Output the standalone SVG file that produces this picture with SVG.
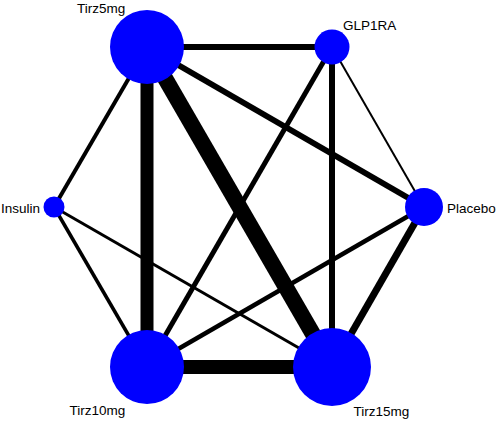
<svg xmlns="http://www.w3.org/2000/svg" width="498" height="423" viewBox="0 0 498 423">
<style>
.e{stroke:#000;stroke-linecap:butt;fill:none}
.n{fill:#0000ff}
text{font-family:"Liberation Sans",Arial,sans-serif;font-size:13.5px;fill:#000}
</style>
<rect width="498" height="423" fill="#fff"/>
<g id="connectors">
<line class="e" x1="147" y1="47" x2="332" y2="47" stroke-width="6"/>
<line class="e" x1="147" y1="47" x2="147" y2="367" stroke-width="13"/>
<line class="e" x1="147" y1="47" x2="332" y2="367" stroke-width="16"/>
<line class="e" x1="147" y1="47" x2="424" y2="207" stroke-width="6"/>
<line class="e" x1="147" y1="47" x2="54" y2="207" stroke-width="4"/>
<line class="e" x1="332" y1="47" x2="147" y2="367" stroke-width="5"/>
<line class="e" x1="332" y1="47" x2="332" y2="367" stroke-width="6"/>
<line class="e" x1="332" y1="47" x2="424" y2="207" stroke-width="2"/>
<line class="e" x1="54" y1="207" x2="147" y2="367" stroke-width="3.5"/>
<line class="e" x1="54" y1="207" x2="332" y2="367" stroke-width="3"/>
<line class="e" x1="424" y1="207" x2="147" y2="367" stroke-width="4.5"/>
<line class="e" x1="424" y1="207" x2="332" y2="367" stroke-width="7"/>
<line class="e" x1="147" y1="367" x2="332" y2="367" stroke-width="14"/>
</g>
<g id="node-tirz5mg"><circle class="n" cx="147" cy="47" r="37"/><text x="77" y="13">Tirz5mg</text></g>
<g id="node-glp1ra"><circle class="n" cx="332" cy="47" r="17.5"/><text x="343" y="30">GLP1RA</text></g>
<g id="node-insulin"><circle class="n" cx="54" cy="207" r="10.5"/><text x="1" y="212.5">Insulin</text></g>
<g id="node-placebo"><circle class="n" cx="424" cy="207" r="19"/><text x="447" y="212.5">Placebo</text></g>
<g id="node-tirz10mg"><circle class="n" cx="147" cy="367" r="37"/><text x="69.5" y="415">Tirz10mg</text></g>
<g id="node-tirz15mg"><circle class="n" cx="332" cy="367" r="39"/><text x="353.5" y="415.5">Tirz15mg</text></g>
</svg>
